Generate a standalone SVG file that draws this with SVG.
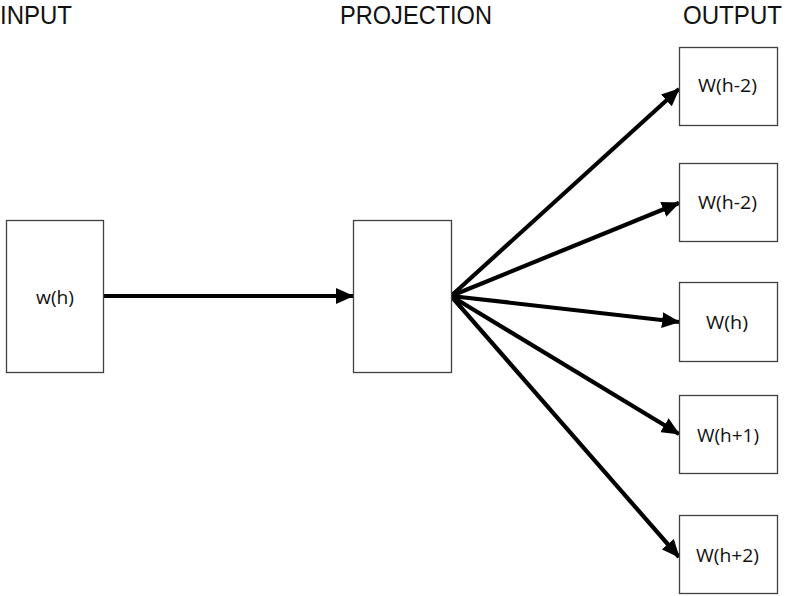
<svg xmlns="http://www.w3.org/2000/svg" width="787" height="596" viewBox="0 0 787 596">
<defs>
<style>
.box{fill:#fff;stroke:#404040;stroke-width:1.3}
.hd{font-family:"Liberation Sans",Arial,sans-serif;font-size:25px;fill:#111}
.lb{font-family:"Open Sans","Liberation Sans",sans-serif;font-size:18px;fill:#111;text-anchor:middle}
.ar{stroke:#000;stroke-width:4.2;fill:none;marker-end:url(#ah)}
</style>
<marker id="ah" markerUnits="userSpaceOnUse" markerWidth="18" markerHeight="16" viewBox="0 0 18 16" refX="17" refY="8" orient="auto">
<path d="M0,0 L18,8 L0,16 Z" fill="#000"/>
</marker>
</defs>
<rect width="787" height="596" fill="#fff"/>
<g id="headings">
<text class="hd" x="0" y="24" textLength="72" lengthAdjust="spacingAndGlyphs">INPUT</text>
<text class="hd" x="340" y="24" textLength="152" lengthAdjust="spacingAndGlyphs">PROJECTION</text>
<text class="hd" x="683" y="24" textLength="99" lengthAdjust="spacingAndGlyphs">OUTPUT</text>
</g>
<g id="connectors">
<line class="ar" x1="103" y1="296" x2="353" y2="296"/>
<line class="ar" x1="451" y1="296" x2="679" y2="89"/>
<line class="ar" x1="451" y1="296" x2="679" y2="203"/>
<line class="ar" x1="451" y1="296" x2="679" y2="322"/>
<line class="ar" x1="451" y1="296" x2="679" y2="434"/>
<line class="ar" x1="451" y1="296" x2="679" y2="557"/>
</g>
<g id="input">
<rect class="box" x="6.5" y="220.5" width="97" height="152"/>
<text class="lb" x="55" y="304" textLength="38" lengthAdjust="spacingAndGlyphs">w(h)</text>
</g>
<g id="projection">
<rect class="box" x="353.5" y="220.5" width="98" height="152"/>
</g>
<g id="out1">
<rect class="box" x="679.5" y="47.5" width="98" height="78"/>
<text class="lb" x="727.5" y="92" textLength="59" lengthAdjust="spacingAndGlyphs">W(h-2)</text>
</g>
<g id="out2">
<rect class="box" x="679.5" y="163.5" width="98" height="78"/>
<text class="lb" x="727.5" y="209" textLength="59" lengthAdjust="spacingAndGlyphs">W(h-2)</text>
</g>
<g id="out3">
<rect class="box" x="679.5" y="282.5" width="98" height="79"/>
<text class="lb" x="727" y="329" textLength="42" lengthAdjust="spacingAndGlyphs">W(h)</text>
</g>
<g id="out4">
<rect class="box" x="679.5" y="395.5" width="98" height="78"/>
<text class="lb" x="728" y="442" textLength="62" lengthAdjust="spacingAndGlyphs">W(h+1)</text>
</g>
<g id="out5">
<rect class="box" x="679.5" y="515.5" width="98" height="78"/>
<text class="lb" x="727.5" y="562" textLength="63" lengthAdjust="spacingAndGlyphs">W(h+2)</text>
</g>
</svg>
